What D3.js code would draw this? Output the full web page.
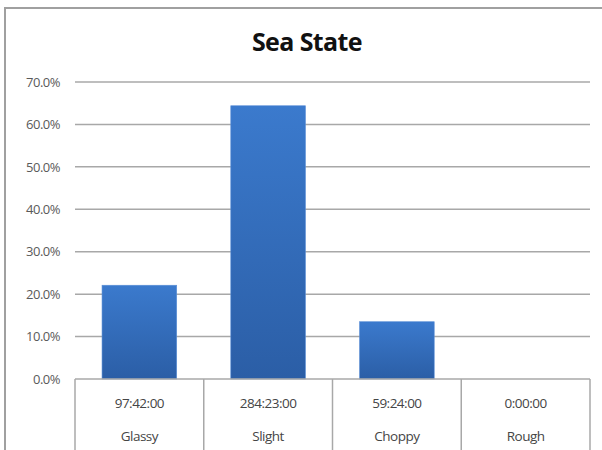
<!DOCTYPE html>
<html>
<head>
<meta charset="utf-8">
<script src="https://cdn.jsdelivr.net/npm/d3@7"></script>
<style>
  html, body { margin: 0; padding: 0; background: #fff; }
  svg { display: block; }
</style>
</head>
<body>
<svg id="chart" width="602" height="450"></svg>
<script>
// Sea state distribution: share of logged time per condition
const categories = ["Glassy", "Slight", "Choppy", "Rough"];
const durations = ["97:42:00", "284:23:00", "59:24:00", "0:00:00"];
const shares = [22.1, 64.4, 13.5, 0.0];
const yTicks = [0, 10, 20, 30, 40, 50, 60, 70];

const svg = d3.select("#chart");
const W = 602, H = 450;
const plot = { left: 75, right: 590, top: 82, bottom: 379 };
const font = "'Open Sans', sans-serif";

// chart frame
svg.append("rect")
  .attr("x", 5).attr("y", 8)
  .attr("width", W + 10).attr("height", H + 10)
  .attr("fill", "#fff")
  .attr("stroke", "#a0a0a0").attr("stroke-width", 2);

const x = d3.scaleBand()
  .domain(categories)
  .range([plot.left, plot.right])
  .paddingInner(0.42)
  .paddingOuter(0.21);

const y = d3.scaleLinear()
  .domain([0, 70])
  .range([plot.bottom, plot.top]);

// bar gradient
const defs = svg.append("defs");
const grad = defs.append("linearGradient")
  .attr("id", "barFill")
  .attr("x1", 0).attr("y1", 0).attr("x2", 0).attr("y2", 1);
grad.append("stop").attr("offset", "0%").attr("stop-color", "#3b7acd");
grad.append("stop").attr("offset", "100%").attr("stop-color", "#2b5ea6");

// horizontal gridlines
svg.append("g")
  .selectAll("line")
  .data(yTicks.filter(t => t > 0))
  .join("line")
  .attr("x1", plot.left).attr("x2", plot.right)
  .attr("y1", d => y(d)).attr("y2", d => y(d))
  .attr("stroke", "#a8a8a8").attr("stroke-width", 1.5);

// y axis labels
const yAxis = d3.axisLeft(y)
  .tickValues(yTicks)
  .tickFormat(d => d.toFixed(1) + "%")
  .tickSize(0)
  .tickPadding(15);
const yg = svg.append("g")
  .attr("transform", `translate(${plot.left},0)`)
  .call(yAxis);
yg.select(".domain").remove();
yg.selectAll("text")
  .attr("font-family", font)
  .attr("font-size", 13)
  .attr("letter-spacing", "-0.5")
  .attr("fill", "#5a5a5a");

// bars
svg.append("g")
  .selectAll("rect")
  .data(categories.map((c, i) => ({ c, v: shares[i] })))
  .join("rect")
  .attr("x", d => x(d.c))
  .attr("width", x.bandwidth())
  .attr("y", d => y(d.v))
  .attr("height", d => y(0) - y(d.v))
  .attr("fill", "url(#barFill)")
  .attr("stroke", "#5b8fd6").attr("stroke-width", 0.6);

// baseline and category table
const table = svg.append("g");
table.append("line")
  .attr("x1", plot.left).attr("x2", plot.right)
  .attr("y1", y(0)).attr("y2", y(0))
  .attr("stroke", "#a8a8a8").attr("stroke-width", 1.5);

const step = x.step();
const bounds = categories.map((c, i) => plot.left + i * step).concat([plot.right]);
table.selectAll("line.sep")
  .data(bounds)
  .join("line")
  .attr("class", "sep")
  .attr("x1", d => d).attr("x2", d => d)
  .attr("y1", y(0)).attr("y2", H)
  .attr("stroke", "#a8a8a8").attr("stroke-width", 1.5);

const center = c => x(c) + x.bandwidth() / 2;
table.selectAll("text.dur")
  .data(categories)
  .join("text")
  .attr("class", "dur")
  .attr("x", d => center(d))
  .attr("y", 408)
  .attr("text-anchor", "middle")
  .attr("font-family", font)
  .attr("font-size", 13.5)
  .attr("letter-spacing", "-0.5")
  .attr("fill", "#454545")
  .text((d, i) => durations[i]);

table.selectAll("text.cat")
  .data(categories)
  .join("text")
  .attr("class", "cat")
  .attr("x", d => center(d))
  .attr("y", 441)
  .attr("text-anchor", "middle")
  .attr("font-family", font)
  .attr("font-size", 13.5)
  .attr("letter-spacing", "-0.5")
  .attr("fill", "#454545")
  .text(d => d);

// title
svg.append("text")
  .attr("x", 307).attr("y", 51)
  .attr("text-anchor", "middle")
  .attr("font-family", font)
  .attr("font-weight", "bold")
  .attr("font-size", 25)
  .attr("letter-spacing", "-0.6")
  .attr("fill", "#111")
  .text("Sea State");
</script>
</body>
</html>
